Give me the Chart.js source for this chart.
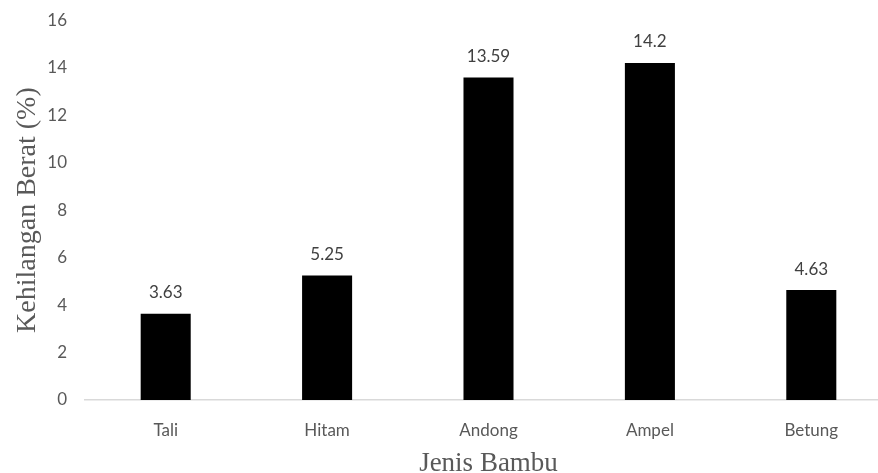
<!DOCTYPE html>
<html lang="id">
<head>
<meta charset="UTF-8">
<title>Kehilangan Berat Bambu</title>
<script src="https://cdn.jsdelivr.net/npm/chart.js"></script>
<style>
    * { margin: 0; padding: 0; box-sizing: border-box; }
    html, body { width: 878px; height: 473px; overflow: hidden; background: #fff; }
    #wrap { width: 892px; height: 473px; }
</style>
</head>
<body>
<div id="wrap"><canvas id="chart" width="892" height="473"></canvas></div>
<script>
    const categories = ['Tali', 'Hitam', 'Andong', 'Ampel', 'Betung'];
    const weightLoss = [3.63, 5.25, 13.59, 14.2, 4.63];
    const valueLabels = ['3.63', '5.25', '13.59', '14.2', '4.63'];

    const tickFont = 'Lato, "Open Sans", sans-serif';

    // value text above each bar
    const barLabels = {
        id: 'barLabels',
        afterDatasetsDraw(chart) {
            const ctx = chart.ctx;
            const meta = chart.getDatasetMeta(0);
            ctx.save();
            ctx.font = '17px ' + tickFont;
            ctx.fillStyle = '#404040';
            ctx.textAlign = 'center';
            ctx.textBaseline = 'middle';
            meta.data.forEach((bar, i) => {
                ctx.fillText(valueLabels[i], bar.x, bar.y - 21);
            });
            ctx.restore();
        }
    };

    new Chart(document.getElementById('chart'), {
        type: 'bar',
        data: {
            labels: categories,
            datasets: [{
                data: weightLoss,
                backgroundColor: '#000000',
                borderWidth: 0,
                barPercentage: 0.31,
                categoryPercentage: 1
            }]
        },
        options: {
            responsive: false,
            animation: false,
            layout: { padding: { top: 20, right: 0, bottom: 0, left: 0 } },
            plugins: {
                legend: { display: false },
                tooltip: { enabled: false }
            },
            scales: {
                x: {
                    grid: { drawOnChartArea: false, drawTicks: false },
                    border: { display: true, color: '#d9d9d9', width: 1.5 },
                    ticks: {
                        color: '#595959',
                        font: { family: tickFont, size: 17 },
                        padding: 20
                    },
                    title: {
                        display: true,
                        text: 'Jenis Bambu',
                        color: '#595959',
                        font: { family: '"Liberation Serif", serif', size: 27 },
                        padding: { top: 0, bottom: -7 }
                    },
                    afterFit(scale) { scale.height = 73; }
                },
                y: {
                    min: 0,
                    max: 16,
                    grid: { display: false },
                    border: { display: false },
                    ticks: {
                        stepSize: 2,
                        color: '#595959',
                        font: { family: tickFont, size: 17 },
                        padding: 10
                    },
                    title: {
                        display: true,
                        text: 'Kehilangan Berat (%)',
                        color: '#595959',
                        font: { family: '"Liberation Serif", serif', size: 28 },
                        padding: { top: 11, bottom: 0 }
                    },
                    afterFit(scale) { scale.width = 85; }
                }
            }
        },
        plugins: [barLabels]
    });
</script>
</body>
</html>
